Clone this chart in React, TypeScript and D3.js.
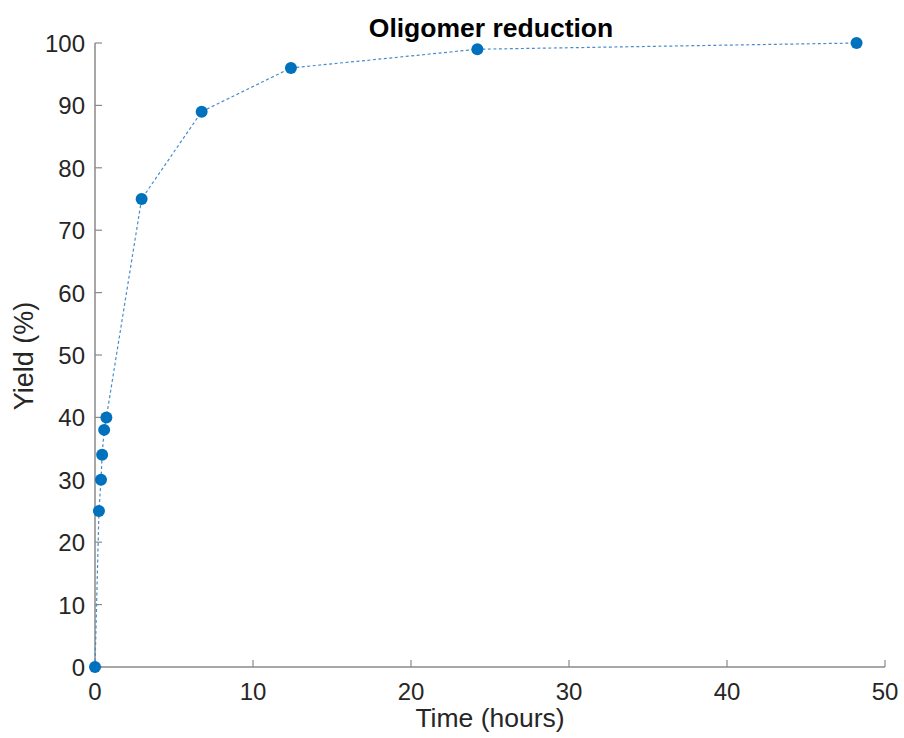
import React from "react";
import * as d3 from "d3";

const timeHours = [0, 0.25, 0.38, 0.45, 0.58, 0.72, 2.95, 6.75, 12.4, 24.2, 48.2];
const yieldPct = [0, 25, 30, 34, 38, 40, 75, 89, 96, 99, 100];
const xTicks = [0, 10, 20, 30, 40, 50];
const yTicks = [0, 10, 20, 30, 40, 50, 60, 70, 80, 90, 100];

const W = 904, H = 738;
const L = 95, R = 885, T = 43, B = 667;

export default function App() {
  const x = d3.scaleLinear().domain([0, 50]).range([L, R]);
  const y = d3.scaleLinear().domain([0, 100]).range([B, T]);
  const pts = timeHours.map((t, i) => [t, yieldPct[i]] as [number, number]);
  const line = d3.line<[number, number]>().x(d => x(d[0])).y(d => y(d[1]));
  const font = "'Liberation Sans', Arial, Helvetica, sans-serif";
  const axisColor = "#8a8a8a";
  const textColor = "#262626";
  return (
    <svg width={W} height={H} style={{ position: "absolute", left: 0, top: 0, background: "#fff" }} fontFamily={font}>
      <rect x={0} y={0} width={W} height={H} fill="#fff" />
      <line x1={L} x2={R} y1={B} y2={B} stroke={axisColor} strokeWidth={1.5} />
      <line x1={L} x2={L} y1={T} y2={B} stroke={axisColor} strokeWidth={1.5} />
      {xTicks.map(t => (
        <g key={"x" + t}>
          <line x1={x(t)} x2={x(t)} y1={B} y2={B - 7} stroke={axisColor} strokeWidth={1.2} />
          <text x={x(t)} y={B + 33} textAnchor="middle" fontSize={24} fill={textColor}>{t}</text>
        </g>
      ))}
      {yTicks.map(t => (
        <g key={"y" + t}>
          <line x1={L} x2={L + 7} y1={y(t)} y2={y(t)} stroke={axisColor} strokeWidth={1.2} />
          <text x={L - 10} y={y(t) + 9} textAnchor="end" fontSize={24} fill={textColor}>{t}</text>
        </g>
      ))}
      <path d={line(pts) || ""} fill="none" stroke="#4a8cc9" strokeWidth={1.2} strokeDasharray="3,2.5" />
      {pts.map((p, i) => (
        <circle key={i} cx={x(p[0])} cy={y(p[1])} r={6} fill="#0072BD" />
      ))}
      <text x={491} y={37} textAnchor="middle" fontSize={26.5} fontWeight="bold" fill="#000">Oligomer reduction</text>
      <text x={490} y={727} textAnchor="middle" fontSize={26.5} fill={textColor}>Time (hours)</text>
      <text transform={`translate(33,356) rotate(-90)`} textAnchor="middle" fontSize={27} fill={textColor}>Yield (%)</text>
    </svg>
  );
}
